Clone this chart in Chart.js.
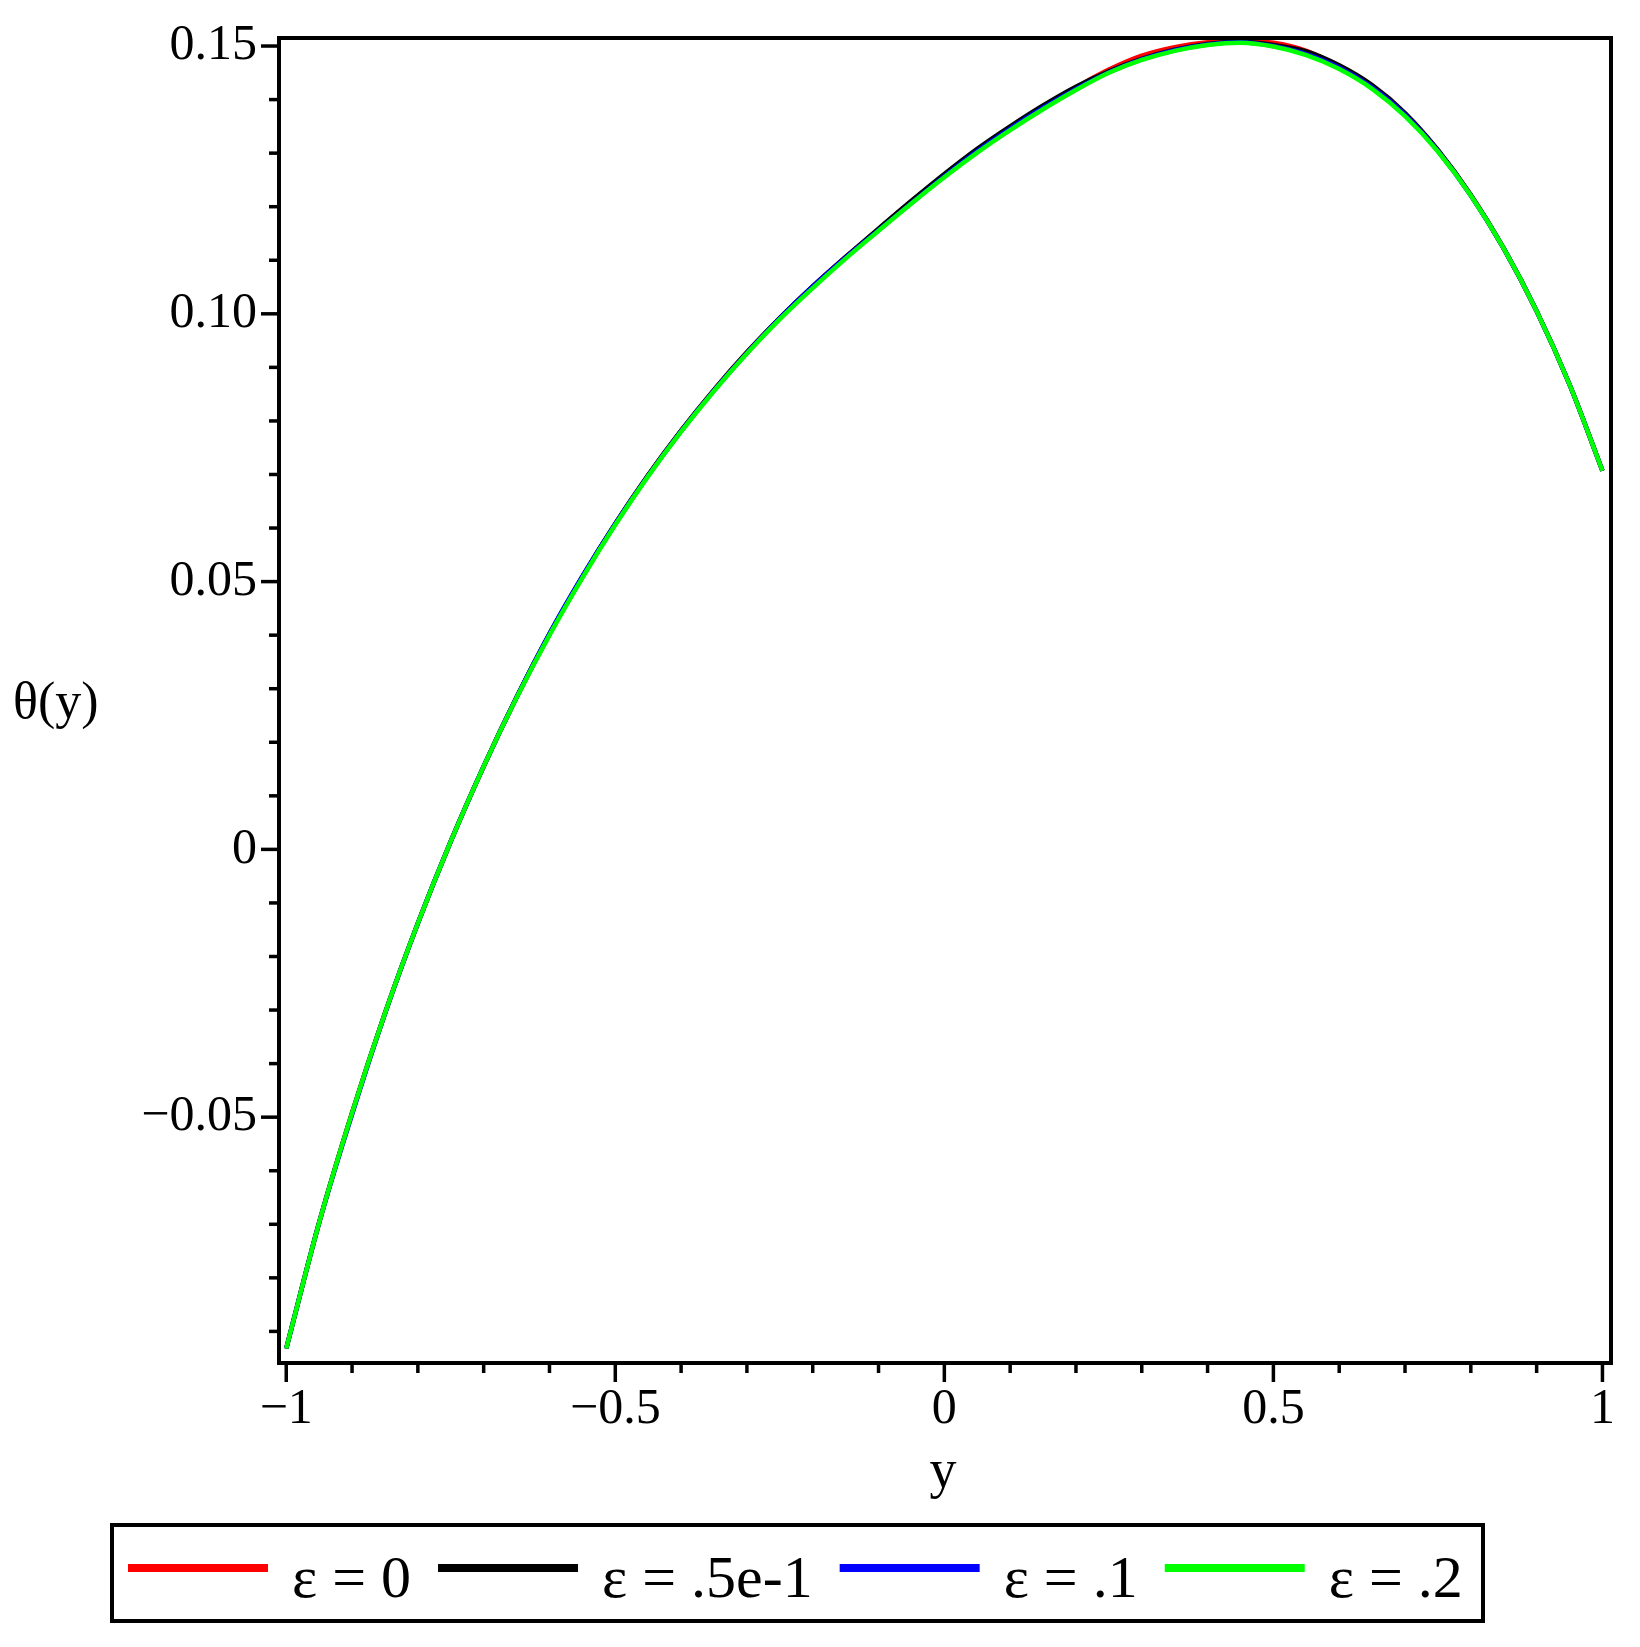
<!DOCTYPE html>
<html>
<head>
<meta charset="utf-8">
<script src="https://cdn.jsdelivr.net/npm/chart.js@4.4.1/dist/chart.umd.min.js"></script>
<style>
  html, body { margin: 0; padding: 0; background: #fff; }
  #wrap { width: 1640px; height: 1647px; }
</style>
</head>
<body>
<div id="wrap"><canvas id="c" width="1640" height="1647"></canvas></div>
<script>
// ---- data ----
const yGrid = [-1, -0.95, -0.9, -0.85, -0.8, -0.75, -0.7, -0.65, -0.6, -0.55, -0.5, -0.45, -0.4, -0.35, -0.3, -0.25, -0.2, -0.15, -0.1, -0.05,
  0, 0.05, 0.1, 0.15, 0.2, 0.25, 0.3, 0.35, 0.4, 0.45, 0.5, 0.55, 0.6, 0.65, 0.7, 0.75, 0.8, 0.85, 0.9, 0.95, 1];

const thetaEps0 = [-0.0932, -0.0697, -0.0492, -0.0306, -0.0138, 0.0015, 0.0155, 0.0284, 0.0402, 0.0509, 0.0608, 0.0699, 0.0782, 0.0858, 0.0928, 0.0992, 0.1051, 0.1106, 0.1158, 0.1210,
  0.1259, 0.1306, 0.1348, 0.1387, 0.1423, 0.1456, 0.1482, 0.1498, 0.1507, 0.1510, 0.1506, 0.1491, 0.1462, 0.1425, 0.1373, 0.1305, 0.1222, 0.1122, 0.1005, 0.0868, 0.0707];

const thetaEps005 = [-0.0932, -0.0697, -0.0492, -0.0306, -0.0138, 0.0015, 0.0155, 0.0284, 0.0402, 0.0509, 0.0608, 0.0699, 0.0782, 0.0858, 0.0928, 0.0992, 0.1051, 0.1106, 0.1159, 0.1211,
  0.1261, 0.1308, 0.1350, 0.1389, 0.1424, 0.1453, 0.1476, 0.1493, 0.1504, 0.1508, 0.1502, 0.1490, 0.1464, 0.1427, 0.1375, 0.1306, 0.1222, 0.1122, 0.1005, 0.0868, 0.0707];

const thetaEps01 = [-0.0932, -0.0697, -0.0495, -0.0307, -0.0138, 0.0015, 0.0155, 0.0284, 0.0403, 0.0510, 0.0608, 0.0698, 0.0781, 0.0857, 0.0927, 0.0992, 0.1051, 0.1105, 0.1156, 0.1207,
  0.1257, 0.1304, 0.1346, 0.1385, 0.1420, 0.1451, 0.1475, 0.1492, 0.1503, 0.1507, 0.1500, 0.1485, 0.1460, 0.1423, 0.1372, 0.1304, 0.1221, 0.1122, 0.1005, 0.0868, 0.0707];

const thetaEps02 = [-0.0932, -0.0697, -0.0492, -0.0306, -0.0138, 0.0015, 0.0155, 0.0283, 0.0400, 0.0507, 0.0606, 0.0697, 0.0780, 0.0856, 0.0926, 0.0990, 0.1048, 0.1103, 0.1155, 0.1206,
  0.1255, 0.1301, 0.1343, 0.1382, 0.1418, 0.1450, 0.1474, 0.1491, 0.1502, 0.1506, 0.1499, 0.1483, 0.1457, 0.1420, 0.1369, 0.1303, 0.1221, 0.1122, 0.1005, 0.0868, 0.0707];

const seriesLabels = ['ε = 0', 'ε = .5e-1', 'ε = .1', 'ε = .2'];
const seriesColors = ['#ff0000', '#000000', '#0000ff', '#00ff00'];

const xTickValues = [-1, -0.9, -0.8, -0.7, -0.6, -0.5, -0.4, -0.3, -0.2, -0.1, 0, 0.1, 0.2, 0.3, 0.4, 0.5, 0.6, 0.7, 0.8, 0.9, 1];
const xTickLabels = { '-1': '\u22121', '-0.5': '\u22120.5', '0': '0', '0.5': '0.5', '1': '1' };
const yTickValues = [-0.09, -0.08, -0.07, -0.06, -0.05, -0.04, -0.03, -0.02, -0.01, 0, 0.01, 0.02, 0.03, 0.04, 0.05, 0.06, 0.07, 0.08, 0.09, 0.1, 0.11, 0.12, 0.13, 0.14, 0.15];
const yTickLabels = { '-0.05': '\u22120.05', '0': '0', '0.05': '0.05', '0.1': '0.10', '0.15': '0.15' };

const xTitle = 'y';
const yTitle = 'θ(y)';

// ---- chart ----
const FONT = '"Liberation Serif", "Times New Roman", serif';
const key = v => String(Math.round(v * 1000) / 1000);

const allSeries = [thetaEps0, thetaEps005, thetaEps01, thetaEps02];
const datasets = allSeries.map((arr, i) => ({
  label: seriesLabels[i],
  data: yGrid.map((v, k) => ({ x: v, y: arr[k] })),
  borderColor: seriesColors[i],
  backgroundColor: seriesColors[i],
  borderWidth: 4.5,
  pointRadius: 0,
  fill: false,
  cubicInterpolationMode: 'monotone',
  order: allSeries.length - i
}));

const framePlugin = {
  id: 'frameTicksTitlesLegend',
  afterDraw(chart) {
    const { ctx, chartArea: a, scales: { x, y } } = chart;
    ctx.save();
    ctx.strokeStyle = '#000';
    ctx.lineCap = 'butt';
    // tick marks
    ctx.lineWidth = 3.5;
    xTickValues.forEach(v => {
      const px = x.getPixelForValue(v);
      const len = (key(v) in xTickLabels) ? 19 : 10;
      ctx.beginPath(); ctx.moveTo(px, a.bottom); ctx.lineTo(px, a.bottom + len); ctx.stroke();
    });
    yTickValues.forEach(v => {
      const py = y.getPixelForValue(v);
      const len = (key(v) in yTickLabels) ? 18 : 10;
      ctx.beginPath(); ctx.moveTo(a.left, py); ctx.lineTo(a.left - len, py); ctx.stroke();
    });
    // frame
    ctx.lineWidth = 4;
    ctx.strokeRect(a.left, a.top, a.right - a.left, a.bottom - a.top);

    // axis titles
    ctx.fillStyle = '#000';
    ctx.textBaseline = 'alphabetic';
    ctx.font = '52px ' + FONT;
    ctx.textAlign = 'left';
    ctx.fillText(yTitle, 13, 718);
    ctx.font = '54px ' + FONT;
    ctx.textAlign = 'center';
    ctx.fillText(xTitle, 943, 1487);

    // legend
    const box = { l: 112, t: 1525, r: 1483, b: 1621 };
    ctx.lineWidth = 4;
    ctx.strokeRect(box.l, box.t, box.r - box.l, box.b - box.t);
    ctx.font = '60px ' + FONT;
    ctx.textAlign = 'left';
    let cx = 128;
    chart.data.datasets.forEach(ds => {
      ctx.strokeStyle = ds.borderColor;
      ctx.lineWidth = 8;
      ctx.beginPath(); ctx.moveTo(cx, 1568); ctx.lineTo(cx + 140, 1568); ctx.stroke();
      cx += 140 + 24;
      ctx.fillStyle = '#000';
      ctx.fillText(ds.label, cx, 1597);
      cx += ctx.measureText(ds.label).width + 27;
    });
    ctx.restore();
  }
};

new Chart(document.getElementById('c'), {
  type: 'line',
  data: { datasets },
  options: {
    responsive: false,
    animation: false,
    layout: { padding: { left: 0, top: 38, right: 29, bottom: 0 } },
    plugins: { legend: { display: false }, tooltip: { enabled: false } },
    scales: {
      x: {
        type: 'linear',
        min: -1.011, max: 1.013,
        grid: { display: false, drawTicks: false },
        border: { display: false },
        afterBuildTicks: s => { s.ticks = xTickValues.map(v => ({ value: v })); },
        afterFit: s => { s.height = 284; s.paddingLeft = 0; s.paddingRight = 0; },
        ticks: {
          autoSkip: false, maxRotation: 0, minRotation: 0, padding: 17,
          color: '#000', font: { family: FONT, size: 50 },
          callback: v => xTickLabels[key(v)] || ''
        }
      },
      y: {
        type: 'linear',
        min: -0.0959, max: 0.1515,
        grid: { display: false, drawTicks: false },
        border: { display: false },
        afterBuildTicks: s => { s.ticks = yTickValues.map(v => ({ value: v })); },
        afterFit: s => { s.width = 279; s.paddingTop = 0; s.paddingBottom = 0; },
        ticks: {
          autoSkip: false, padding: 22,
          color: '#000', font: { family: FONT, size: 50 },
          callback: v => yTickLabels[key(v)] || ''
        }
      }
    }
  },
  plugins: [framePlugin]
});
</script>
</body>
</html>
